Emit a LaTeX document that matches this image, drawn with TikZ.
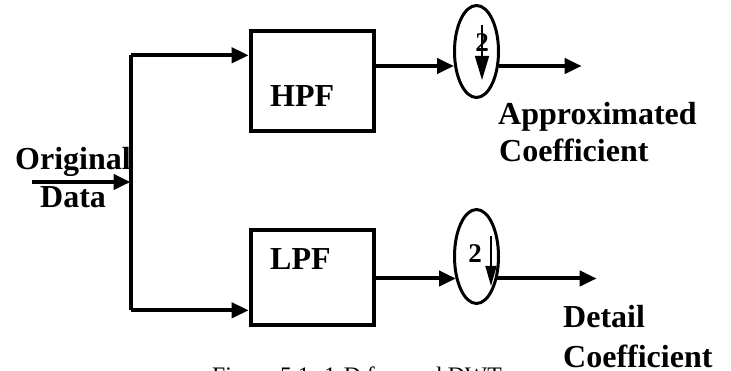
\documentclass[tikz,border=0pt]{standalone}
\usepackage{fontspec}
\setmainfont{Liberation Serif}
\usetikzlibrary{shapes.geometric,arrows.meta,calc}
\begin{document}
\begin{tikzpicture}[x=1pt,y=-1pt,
  arr/.style={line width=4pt,-{Triangle[length=17pt,width=15pt]}},
  filt/.style={draw,line width=4pt,inner sep=0pt,anchor=north west,minimum width=123pt},
  lab/.style={font=\fontsize{32}{36}\selectfont\bfseries,inner sep=0pt,anchor=base west},
  dec/.style={draw,ellipse,line width=3pt,minimum width=44pt,inner sep=0pt},
  two/.style={font=\fontsize{27}{30}\selectfont\bfseries,inner sep=0pt},
  small/.style={line width=1.6pt}]
\useasboundingbox (0,0) rectangle (731,371);
\clip (0,0) rectangle (731,371);
% filter boxes
\node[filt,minimum height=100pt] (hpf) at (248.7,29.5) {};
\node[filt,minimum height=95pt] (lpf) at (248.7,228.3) {};
\node[lab] (hpft) at (270,107) {HPF};
\node[lab] (lpft) at (270,270) {LPF};
% downsamplers
\node[dec,minimum height=92pt] (e1) at (476.5,51.5) {};
\node[dec,minimum height=94pt] (e2) at (476.5,256.5) {};
\node[two] (t1) at (482,43) {2};
\node[two] (t2) at (475,254) {2};
\draw[small,-{Triangle[length=24pt,width=14pt]}] (482,25) -- (482,80);
\draw[small,-{Triangle[length=20pt,width=11pt]}] (491,236) -- (491,286);
% input and splitter
\coordinate (in) at (32,182);
\coordinate (j) at (130.5,182);
\coordinate (ya) at (0,55.3);
\coordinate (yb) at (0,310.3);
\coordinate (y1) at (0,66);
\coordinate (y2) at (0,278.5);
\coordinate (o1) at (581.7,66);
\coordinate (o2) at (596.7,278.5);
\draw[arr] (in) -- (j);
\draw[line width=4pt] (j |- ya) -- (j |- yb);
\draw[arr] (j |- ya) -- (hpf.west |- ya);
\draw[arr] (j |- yb) -- (lpf.west |- yb);
% filter to downsampler
\draw[arr] (hpf.east |- y1) -- ([xshift=1pt]e1.west |- y1);
\draw[arr] (lpf.east |- y2) -- ([xshift=3pt]e2.west |- y2);
% outputs
\draw[arr] ([xshift=-1pt]e1.east |- y1) -- (o1);
\draw[arr] ([xshift=-3pt]e2.east |- y2) -- (o2);
% labels
\node[lab] (orig) at (15,170) {Original};
\node[lab] (data) at (40,208) {Data};
\node[lab] (appr) at (498,125) {Approximated};
\node[lab] (coef1) at (499,162) {Coefficient};
\node[lab] (det) at (563,327) {Detail};
\node[lab] (coef2) at (563,367) {Coefficient};
\node[font=\fontsize{23.7}{28}\selectfont,inner sep=0pt,anchor=base west] (cap) at (212,383) {Figure 5.1: 1-D forward DWT};
\end{tikzpicture}
\end{document}
